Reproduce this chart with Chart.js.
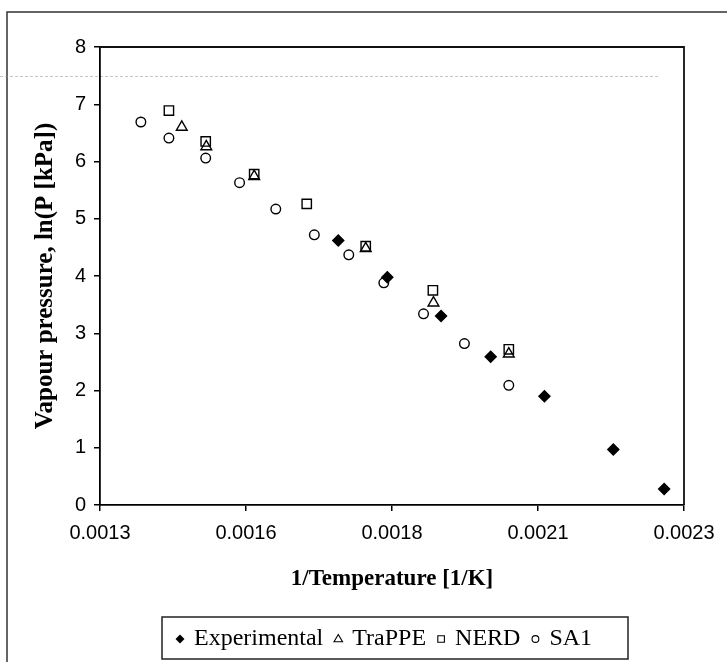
<!DOCTYPE html>
<html>
<head>
<meta charset="utf-8">
<title>Vapour pressure</title>
<script src="https://cdn.jsdelivr.net/npm/chart.js@4.4.0/dist/chart.umd.min.js"></script>
<style>
  html, body { margin: 0; padding: 0; background: #fff; }
  #wrap { width: 727px; height: 662px; position: relative; }
  canvas { display: block; }
</style>
</head>
<body>
<div id="wrap"><canvas id="c" width="727" height="662"></canvas></div>
<script>
// Series names, in legend order
const seriesNames = ['Experimental', 'TraPPE', 'NERD', 'SA1'];

// 1/T [1/K] and ln(P [kPa]) for each series
const expX    = [0.001708, 0.001792, 0.001884, 0.001969, 0.002061, 0.002179, 0.002266];
const expY    = [4.62, 3.98, 3.30, 2.59, 1.90, 0.97, 0.28];
const trappeX = [0.001440, 0.001482, 0.001564, 0.001755, 0.001871, 0.002000];
const trappeY = [6.60, 6.26, 5.74, 4.48, 3.53, 2.64];
const nerdX   = [0.001418, 0.001481, 0.001564, 0.001654, 0.001755, 0.001870, 0.002000];
const nerdY   = [6.89, 6.35, 5.78, 5.26, 4.52, 3.75, 2.72];
const sa1X    = [0.001370, 0.001418, 0.001481, 0.001539, 0.001601, 0.001667, 0.001726, 0.001786, 0.001854, 0.001924, 0.002000];
const sa1Y    = [6.69, 6.41, 6.06, 5.63, 5.17, 4.72, 4.37, 3.88, 3.34, 2.82, 2.09];

// Axis ticks
const xTickValues = [0.0013, 0.00155, 0.0018, 0.00205, 0.0023];
const xTickLabels = ['0.0013', '0.0016', '0.0018', '0.0021', '0.0023'];
const yTickValues = [0, 1, 2, 3, 4, 5, 6, 7, 8];

const pairs = (xs, ys) => xs.map((x, i) => ({ x: x, y: ys[i] }));

const markerStyles = [
  { pointStyle: 'rectRot',  radius: 5.5, fill: '#000' },
  { pointStyle: 'triangle', radius: 6.2, fill: 'rgba(0,0,0,0)' },
  { pointStyle: 'rect',     radius: 6.6, fill: 'rgba(0,0,0,0)' },
  { pointStyle: 'circle',   radius: 4.8, fill: 'rgba(0,0,0,0)' }
];
const seriesData = [pairs(expX, expY), pairs(trappeX, trappeY), pairs(nerdX, nerdY), pairs(sa1X, sa1Y)];

const datasets = seriesNames.map((name, i) => ({
  label: name,
  data: seriesData[i],
  pointStyle: markerStyles[i].pointStyle,
  pointRadius: markerStyles[i].radius,
  pointBackgroundColor: markerStyles[i].fill,
  pointBorderColor: '#000',
  pointBorderWidth: 1.4,
  showLine: false
}));

// Small legend glyph
function drawGlyph(ctx, style, x, y) {
  ctx.save();
  ctx.lineWidth = 1.1;
  ctx.strokeStyle = '#000';
  ctx.fillStyle = '#000';
  ctx.beginPath();
  if (style === 'rectRot') {
    const r = 4.5;
    ctx.moveTo(x, y - r); ctx.lineTo(x + r, y); ctx.lineTo(x, y + r); ctx.lineTo(x - r, y); ctx.closePath();
    ctx.fill();
  } else if (style === 'triangle') {
    const r = 4.5;
    ctx.moveTo(x, y - r); ctx.lineTo(x + r * 0.95, y + r * 0.6); ctx.lineTo(x - r * 0.95, y + r * 0.6); ctx.closePath();
    ctx.stroke();
  } else if (style === 'rect') {
    ctx.rect(x - 3.3, y - 3.3, 6.6, 6.6);
    ctx.stroke();
  } else {
    ctx.arc(x, y, 3.4, 0, Math.PI * 2);
    ctx.stroke();
  }
  ctx.restore();
}

const decorPlugin = {
  id: 'decor',
  beforeDraw(chart) {
    const ctx = chart.ctx;
    ctx.save();
    ctx.fillStyle = '#fff';
    ctx.fillRect(0, 0, chart.width, chart.height);
    // outer frame
    ctx.strokeStyle = '#333';
    ctx.lineWidth = 1.5;
    ctx.strokeRect(7, 12, 760, 700);
    // faint dotted streak across the upper area
    ctx.strokeStyle = 'rgba(150,150,150,0.55)';
    ctx.lineWidth = 1;
    ctx.setLineDash([3, 2]);
    ctx.beginPath();
    ctx.moveTo(0, 76.5); ctx.lineTo(660, 76.5);
    ctx.stroke();
    ctx.restore();
  },
  afterDraw(chart) {
    const ctx = chart.ctx;
    const a = chart.chartArea;
    ctx.save();
    // top and right edges of the plot box
    ctx.strokeStyle = '#111';
    ctx.lineWidth = 1.8;
    ctx.beginPath();
    ctx.moveTo(a.left, a.top); ctx.lineTo(a.right, a.top); ctx.lineTo(a.right, a.bottom);
    ctx.stroke();

    // legend box
    const bx = 162, by = 617, bw = 466, bh = 42;
    ctx.fillStyle = '#fff';
    ctx.fillRect(bx, by, bw, bh);
    ctx.strokeStyle = '#222';
    ctx.lineWidth = 1.5;
    ctx.strokeRect(bx, by, bw, bh);

    ctx.font = '24px "Liberation Serif", "Times New Roman", serif';
    ctx.fillStyle = '#000';
    ctx.textBaseline = 'middle';
    ctx.textAlign = 'left';
    const cy = by + bh / 2 + 1;
    let x = 180;
    seriesNames.forEach((name, i) => {
      drawGlyph(ctx, markerStyles[i].pointStyle, x, cy);
      const tx = x + 14;
      ctx.fillText(name, tx, cy);
      x = tx + ctx.measureText(name).width + 15;
    });
    ctx.restore();
  }
};

new Chart(document.getElementById('c'), {
  type: 'scatter',
  data: { datasets: datasets },
  options: {
    responsive: false,
    animation: false,
    devicePixelRatio: 1,
    layout: { padding: { left: 7, top: 47, right: 43, bottom: 69 } },
    plugins: {
      legend: { display: false },
      tooltip: { enabled: false }
    },
    scales: {
      x: {
        type: 'linear',
        min: 0.0013,
        max: 0.0023,
        afterBuildTicks: s => { s.ticks = xTickValues.map(v => ({ value: v })); },
        afterFit: s => { s.height = 88; },
        ticks: {
          callback: (v, i) => xTickLabels[i],
          color: '#000',
          font: { family: '"Liberation Sans", Arial, sans-serif', size: 20 },
          padding: 10,
          maxRotation: 0,
          autoSkip: false
        },
        grid: { drawOnChartArea: false, drawTicks: true, tickLength: 6, color: '#000', lineWidth: 1.5 },
        border: { display: true, color: '#000', width: 1.8 },
        title: {
          display: true,
          text: '1/Temperature [1/K]',
          color: '#000',
          font: { family: '"Liberation Serif", "Times New Roman", serif', size: 23, weight: 'bold' },
          padding: { top: 0, bottom: 0 }
        }
      },
      y: {
        type: 'linear',
        min: 0,
        max: 8,
        afterBuildTicks: s => { s.ticks = yTickValues.map(v => ({ value: v })); },
        afterFit: s => { s.width = 93; },
        ticks: {
          color: '#000',
          font: { family: '"Liberation Sans", Arial, sans-serif', size: 20 },
          padding: 8
        },
        grid: { drawOnChartArea: false, drawTicks: true, tickLength: 6, color: '#000', lineWidth: 1.5 },
        border: { display: true, color: '#000', width: 1.8 },
        title: {
          display: true,
          text: 'Vapour pressure, ln(P [kPa])',
          color: '#000',
          font: { family: '"Liberation Serif", "Times New Roman", serif', size: 25, weight: 'bold' },
          padding: { top: 24, bottom: 0 }
        }
      }
    }
  },
  plugins: [decorPlugin]
});
</script>
</body>
</html>
